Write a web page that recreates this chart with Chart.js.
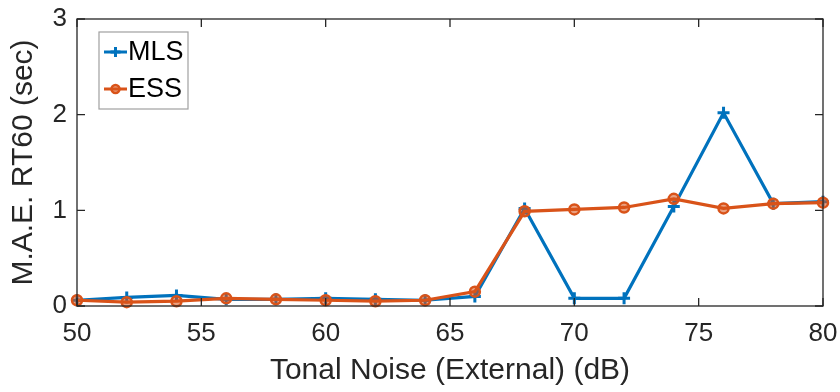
<!DOCTYPE html>
<html>
<head>
<meta charset="utf-8">
<script src="https://cdn.jsdelivr.net/npm/chart.js@4"></script>
<style>
  html, body { margin: 0; padding: 0; background: #fff; }
  #wrap { width: 840px; height: 392px; }
</style>
</head>
<body>
<div id="wrap"><canvas id="myChart"></canvas></div>
<script>
// data
var noiseLevels = [50, 52, 54, 56, 58, 60, 62, 64, 66, 68, 70, 72, 74, 76, 78, 80];
var mlsValues = [0.06, 0.09, 0.11, 0.07, 0.07, 0.08, 0.07, 0.06, 0.10, 1.02, 0.08, 0.08, 1.04, 2.02, 1.07, 1.09];
var essValues = [0.06, 0.04, 0.05, 0.08, 0.07, 0.06, 0.05, 0.06, 0.15, 0.99, 1.01, 1.03, 1.12, 1.02, 1.07, 1.08];
var xTicks = [50, 55, 60, 65, 70, 75, 80];
var yTicks = [0, 1, 2, 3];

var axisColor = '#262626';
var fontFamily = '"Liberation Sans", Arial, Helvetica, sans-serif';

function toPoints(vals){
    var pts = [];
    for(var i = 0 ; i < vals.length ; i++){
        pts.push({x: noiseLevels[i], y: vals[i]});
    }
    return pts;
}

// box around the axes with inward ticks, like matlab
const boxPlugin = {
    id: 'boxPlugin',
    afterDatasetsDraw(chart){
        const ctx = chart.ctx;
        const a = chart.chartArea;
        const xs = chart.scales.x, ys = chart.scales.y;
        ctx.save();
        ctx.strokeStyle = axisColor;
        ctx.lineWidth = 1.3;
        ctx.strokeRect(a.left, a.top, a.right - a.left, a.bottom - a.top);
        ctx.beginPath();
        xTicks.forEach(function(v){
            var px = xs.getPixelForValue(v);
            ctx.moveTo(px, a.bottom); ctx.lineTo(px, a.bottom - 8);
            ctx.moveTo(px, a.top); ctx.lineTo(px, a.top + 8);
        });
        yTicks.forEach(function(v){
            var py = ys.getPixelForValue(v);
            ctx.moveTo(a.left, py); ctx.lineTo(a.left + 8, py);
            ctx.moveTo(a.right, py); ctx.lineTo(a.right - 8, py);
        });
        ctx.stroke();

        // legend box inside the axes
        var lx = 99, ly = 32, lw = 89, lh = 77;
        ctx.fillStyle = '#fff';
        ctx.fillRect(lx, ly, lw, lh);
        ctx.strokeStyle = '#a0a0a0';
        ctx.lineWidth = 1.2;
        ctx.strokeRect(lx, ly, lw, lh);
        var rows = [52, 89];
        [0, 1].forEach(function(di, k){
            var ds = chart.data.datasets[di];
            var y = rows[k];
            ctx.strokeStyle = ds.borderColor;
            ctx.fillStyle = ds.backgroundColor;
            ctx.lineWidth = 3;
            ctx.beginPath();
            ctx.moveTo(104, y); ctx.lineTo(127, y);
            ctx.stroke();
            ctx.lineWidth = ds.pointBorderWidth;
            Chart.helpers.drawPoint(ctx, {pointStyle: ds.pointStyle, radius: ds.pointRadius - 1, borderWidth: ds.pointBorderWidth}, 115.5, y);
            ctx.fillStyle = '#000';
            ctx.font = '27px ' + fontFamily;
            ctx.textAlign = 'left';
            ctx.textBaseline = 'middle';
            ctx.fillText(ds.label, 128, y + 1);
        });
        ctx.restore();
    }
};

const ctx = document.getElementById('myChart');
const myChart = new Chart(ctx, {
    type: 'line',
    data: {
        datasets: [{
            label: 'MLS',
            data: toPoints(mlsValues),
            borderColor: '#0072BD',
            backgroundColor: '#0072BD',
            borderWidth: 3.2,
            pointStyle: 'cross',
            pointRadius: 6,
            pointBorderWidth: 3,
            pointBorderColor: '#0072BD',
            order: 1,
            clip: false
        }, {
            label: 'ESS',
            data: toPoints(essValues),
            borderColor: '#D95319',
            backgroundColor: 'rgba(217,83,25,0.55)',
            borderWidth: 3.2,
            pointStyle: 'circle',
            pointRadius: 5,
            pointBorderWidth: 2.5,
            pointBorderColor: '#D95319',
            order: 0,
            clip: false
        }]
    },
    options: {
        responsive: true,
        maintainAspectRatio: false,
        animation: false,
        layout: { padding: { top: 19, right: 17, left: 0, bottom: 3 } },
        plugins: {
            legend: { display: false },
            tooltip: { enabled: false }
        },
        scales: {
            x: {
                type: 'linear',
                min: 50,
                max: 80,
                afterFit: function(s){ s.height = 83; s.paddingLeft = 0; s.paddingRight = 0; },
                afterBuildTicks: function(s){ s.ticks = xTicks.map(function(v){ return {value: v}; }); },
                grid: { display: false, drawTicks: false },
                border: { display: false },
                ticks: {
                    color: axisColor,
                    padding: 12,
                    maxRotation: 0,
                    font: { family: fontFamily, size: 26 }
                },
                title: {
                    display: true,
                    text: 'Tonal Noise (External) (dB)',
                    color: axisColor,
                    padding: { top: 0, bottom: 0 },
                    font: { family: fontFamily, size: 30 }
                }
            },
            y: {
                min: 0,
                max: 3,
                afterFit: function(s){ s.width = 77; s.paddingTop = 0; s.paddingBottom = 0; },
                afterBuildTicks: function(s){ s.ticks = yTicks.map(function(v){ return {value: v}; }); },
                grid: { display: false, drawTicks: false },
                border: { display: false },
                ticks: {
                    color: axisColor,
                    padding: 10,
                    font: { family: fontFamily, size: 26 }
                },
                title: {
                    display: true,
                    text: 'M.A.E. RT60 (sec)',
                    color: axisColor,
                    padding: { top: 6, bottom: 0 },
                    font: { family: fontFamily, size: 30 }
                }
            }
        }
    },
    plugins: [boxPlugin]
});
</script>
</body>
</html>
